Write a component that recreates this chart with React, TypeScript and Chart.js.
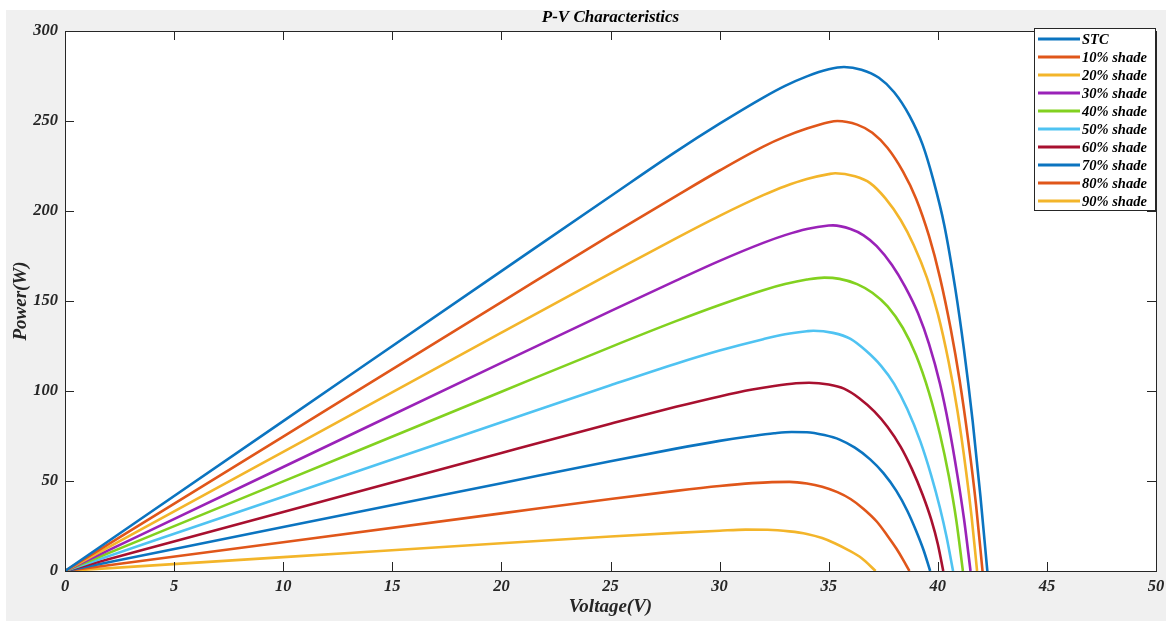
import React, { useEffect, useRef } from 'react';
import { Chart, registerables } from 'chart.js';

Chart.register(...registerables);

const chartTitle = 'P-V Characteristics';
const xAxisTitle = 'Voltage(V)';
const yAxisTitle = 'Power(W)';

const xTickValues = [0, 5, 10, 15, 20, 25, 30, 35, 40, 45, 50];
const yTickValues = [0, 50, 100, 150, 200, 250, 300];

const seriesLabels = ['STC', '10% shade', '20% shade', '30% shade', '40% shade', '50% shade', '60% shade', '70% shade', '80% shade', '90% shade'];
const seriesColors = ['#0b74c0', '#e0561a', '#f3b52a', '#9a22b8', '#82d11f', '#4fc3f2', '#a8102f', '#0b74c0', '#e0561a', '#f3b52a'];

// [voltage, power] pairs
const stc = [[0, 0], [10, 83.3], [20, 166.6], [25, 208.2], [28, 233], [30, 248.5], [32, 263], [33, 269.5], [34, 274.8], [35, 278.7], [35.7, 280], [36.5, 278.5], [37.3, 274], [38, 266], [38.7, 253], [39.3, 237], [39.8, 217], [40.3, 192], [40.8, 157], [41.2, 123], [41.6, 83], [41.95, 42], [42.27, 0]];
const shade10 = [[0, 0], [10, 74.7], [20, 149.4], [25, 186.6], [28, 208.3], [30, 222.5], [32, 235.8], [33, 241.3], [34, 245.8], [35, 249.3], [35.4, 250], [36.3, 248], [37, 243.5], [37.7, 235], [38.4, 222], [39, 207], [39.6, 186], [40.1, 163], [40.6, 134], [41, 106], [41.4, 72], [41.75, 37], [42.05, 0]];
const shade20 = [[0, 0], [10, 66.2], [20, 132.4], [25, 165.3], [28, 184.8], [30, 197.3], [32, 208.8], [33, 213.8], [34, 217.8], [35, 220.5], [35.3, 221], [36.2, 219.3], [36.9, 215.5], [37.6, 207], [38.3, 195], [38.9, 181], [39.5, 163], [40, 143], [40.5, 116], [40.9, 89], [41.3, 55], [41.55, 30], [41.8, 0]];
const shade30 = [[0, 0], [10, 57.8], [20, 115.6], [25, 144.4], [28, 161.3], [30, 172.3], [32, 182.3], [33, 186.6], [34, 190], [35, 191.9], [35.2, 192], [36, 190], [36.6, 186.5], [37.2, 180.5], [37.9, 170], [38.5, 158], [39.1, 143], [39.6, 126], [40.1, 104], [40.5, 81], [40.9, 53], [41.2, 29], [41.5, 0]];
const shade40 = [[0, 0], [10, 49.8], [20, 99.6], [25, 124.4], [28, 138.8], [30, 147.8], [32, 156], [33, 159.4], [34, 161.9], [34.8, 163], [35.5, 162.3], [36.3, 159.4], [37, 154.6], [37.7, 147], [38.4, 135], [39, 120], [39.6, 99], [40.1, 76], [40.5, 53], [40.85, 28], [41.15, 0]];
const shade50 = [[0, 0], [10, 41.3], [20, 82.6], [25, 103.2], [28, 115.2], [30, 122.5], [32, 128.8], [33, 131.5], [34, 133.2], [34.3, 133.5], [35.2, 132.3], [36, 129], [36.7, 122.5], [37.4, 114], [38, 104], [38.6, 90], [39.2, 72], [39.7, 53], [40.1, 35], [40.4, 19], [40.7, 0]];
const shade60 = [[0, 0], [10, 32.8], [20, 65.6], [25, 81.8], [28, 91.2], [30, 97], [31.5, 100.8], [32.5, 102.8], [33.5, 104.3], [34.1, 104.6], [35, 103.6], [35.7, 101.3], [36.4, 96], [37.1, 88.5], [37.7, 80], [38.3, 69], [38.8, 57], [39.3, 42.5], [39.7, 28.5], [40, 15], [40.25, 0]];
const shade70 = [[0, 0], [10, 24.4], [20, 48.8], [25, 61], [28, 68], [30, 72.3], [31.5, 75], [32.5, 76.5], [33.3, 77.2], [34, 77.1], [34.8, 75.5], [35.5, 73], [36.2, 68.5], [36.9, 62], [37.5, 54.5], [38.1, 44.5], [38.6, 33.5], [39, 22.5], [39.35, 11.5], [39.65, 0]];
const shade80 = [[0, 0], [10, 16], [20, 32], [25, 40], [28, 44.5], [30, 47.2], [31.5, 48.8], [32.4, 49.4], [33.2, 49.5], [34, 48.6], [34.7, 46.8], [35.4, 43.8], [36, 40], [36.6, 34.5], [37.2, 27.5], [37.7, 19.5], [38.1, 12.5], [38.4, 6.5], [38.7, 0]];
const shade90 = [[0, 0], [10, 7.7], [20, 15.4], [25, 19.2], [28, 21.2], [30, 22.4], [31.2, 23], [32.2, 22.9], [33.2, 22], [34, 20.6], [34.7, 18.3], [35.3, 15.3], [35.9, 11.6], [36.5, 7.2], [37.15, 0]];

const seriesData = [stc, shade10, shade20, shade30, shade40, shade50, shade60, shade70, shade80, shade90];

const W = 1172;
const H = 621;
const AXIS_COLOR = '#262626';
const SERIF = '"Liberation Serif", "Times New Roman", serif';

const framePlugin = {
  id: 'matlabFrame',
  beforeDraw(chart: any) {
    const { ctx, chartArea } = chart;
    ctx.save();
    ctx.fillStyle = '#ffffff';
    ctx.fillRect(0, 0, W, H);
    ctx.fillStyle = '#f0f0f0';
    ctx.fillRect(6, 10, W - 12, H - 10);
    ctx.fillStyle = '#ffffff';
    ctx.fillRect(chartArea.left, chartArea.top, chartArea.right - chartArea.left, chartArea.bottom - chartArea.top);
    ctx.restore();
  },
  afterDraw(chart: any) {
    const { ctx, chartArea } = chart;
    const xs = chart.scales.x;
    const ys = chart.scales.y;
    const { left, right, top, bottom } = chartArea;
    ctx.save();
    ctx.strokeStyle = AXIS_COLOR;
    ctx.lineWidth = 1;
    ctx.strokeRect(Math.round(left) + 0.5, Math.round(top) + 0.5, Math.round(right - left), Math.round(bottom - top));
    const tl = 9;
    ctx.beginPath();
    xTickValues.forEach((v) => {
      const px = Math.round(xs.getPixelForValue(v)) + 0.5;
      ctx.moveTo(px, bottom);
      ctx.lineTo(px, bottom - tl);
      ctx.moveTo(px, top);
      ctx.lineTo(px, top + tl);
    });
    yTickValues.forEach((v) => {
      const py = Math.round(ys.getPixelForValue(v)) + 0.5;
      ctx.moveTo(left, py);
      ctx.lineTo(left + tl, py);
      ctx.moveTo(right, py);
      ctx.lineTo(right - tl, py);
    });
    ctx.stroke();

    // title
    ctx.fillStyle = '#000000';
    ctx.font = `italic bold 17px ${SERIF}`;
    ctx.textAlign = 'center';
    ctx.textBaseline = 'middle';
    ctx.fillText(chartTitle, (left + right) / 2, 18);

    // legend
    const bx = Math.round(right) - 122;
    const by = 28;
    const bw = 121;
    const bh = 182;
    ctx.fillStyle = '#ffffff';
    ctx.fillRect(bx, by, bw, bh);
    ctx.strokeStyle = AXIS_COLOR;
    ctx.lineWidth = 1;
    ctx.strokeRect(bx + 0.5, by + 0.5, bw, bh);
    ctx.font = `italic bold 14.5px ${SERIF}`;
    ctx.textAlign = 'left';
    ctx.textBaseline = 'middle';
    seriesLabels.forEach((lab, i) => {
      const yy = by + 11 + i * 18;
      ctx.strokeStyle = seriesColors[i];
      ctx.lineWidth = 3;
      ctx.beginPath();
      ctx.moveTo(bx + 4, yy);
      ctx.lineTo(bx + 46, yy);
      ctx.stroke();
      ctx.fillStyle = '#000000';
      ctx.fillText(lab, bx + 48, yy + 1);
    });
    ctx.restore();
  },
};

export default function App() {
  const canvasRef = useRef<HTMLCanvasElement | null>(null);

  useEffect(() => {
    const canvas = canvasRef.current;
    if (!canvas) return;
    const datasets = seriesData.map((pts, i) => ({
      label: seriesLabels[i],
      data: pts.map(([x, y]) => ({ x, y })),
      borderColor: seriesColors[i],
      backgroundColor: seriesColors[i],
      borderWidth: 2.6,
      pointRadius: 0,
      fill: false,
      cubicInterpolationMode: 'monotone' as const,
    }));
    const tickFont = { family: SERIF, size: 16.5, style: 'italic' as const, weight: 'bold' as const };
    const titleFont = { family: SERIF, size: 19, style: 'italic' as const, weight: 'bold' as const };
    const chart = new Chart(canvas, {
      type: 'line',
      data: { datasets },
      plugins: [framePlugin],
      options: {
        animation: false,
        responsive: false,
        maintainAspectRatio: false,
        layout: { padding: { top: 31, right: 16, left: 0, bottom: 0 } },
        plugins: {
          legend: { display: false },
          title: { display: false },
          tooltip: { enabled: false },
        },
        scales: {
          x: {
            type: 'linear',
            min: 0,
            max: 50,
            afterFit: (s: any) => { s.height = 50; },
            afterBuildTicks: (s: any) => { s.ticks = xTickValues.map((v) => ({ value: v })); },
            grid: { display: false, drawTicks: false },
            border: { display: false },
            ticks: { color: AXIS_COLOR, font: tickFont, padding: 6, maxRotation: 0, autoSkip: false },
            title: { display: true, text: xAxisTitle, color: AXIS_COLOR, font: titleFont, padding: { top: 0, bottom: 3 } },
          },
          y: {
            type: 'linear',
            min: 0,
            max: 300,
            afterFit: (s: any) => { s.width = 65; },
            afterBuildTicks: (s: any) => { s.ticks = yTickValues.map((v) => ({ value: v })); },
            grid: { display: false, drawTicks: false },
            border: { display: false },
            ticks: { color: AXIS_COLOR, font: tickFont, padding: 7, autoSkip: false },
            title: { display: true, text: yAxisTitle, color: AXIS_COLOR, font: titleFont, padding: { top: 10, bottom: 0 } },
          },
        },
      },
    });
    return () => chart.destroy();
  }, []);

  return (
    <div style={{ position: 'absolute', left: 0, top: 0, width: W, height: H }}>
      <canvas ref={canvasRef} width={W} height={H} style={{ display: 'block', width: W, height: H }} />
    </div>
  );
}
